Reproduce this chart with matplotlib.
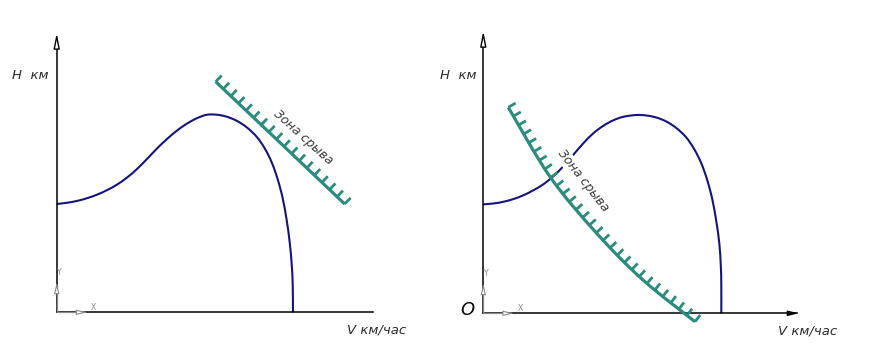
import numpy as np
import matplotlib
matplotlib.use("Agg")
import matplotlib.pyplot as plt
from matplotlib.path import Path
from matplotlib.patches import PathPatch

# ---- data (drawing units relative to the origin of each diagram) ----
left_v = [0, 10, 20, 30, 40, 50, 60, 70, 80, 90, 100, 110, 120, 130, 140, 150,
          160, 170, 180, 190, 200, 208, 215, 221, 226, 230, 233, 235, 236, 236.3]
left_h = [108.3, 109.5, 111.3, 114, 117.5, 122, 127.5, 134.5, 143, 153, 163.5, 173, 181.5, 188.5, 194, 197.5,
          197.6, 195.6, 191.5, 185, 175.5, 164, 150, 133, 114, 92, 70, 48, 28, 0]

right_v = [0, 10, 20, 30, 40, 50, 60, 70, 80, 90, 100, 110, 120, 130, 140, 153,
           163, 173, 183, 193, 203, 211, 218, 224, 229, 233, 236, 237.5, 238, 238]
right_h = [109, 109.8, 111.5, 114.2, 118, 123, 129, 137, 147, 158.5, 170, 180, 187.5, 193, 196.5, 198.3,
           197.8, 195.8, 191.8, 185.3, 175.8, 164, 150, 133, 114, 92, 70, 48, 28, 0]

left_stall_v = [159, 223.5, 288]
left_stall_h = [230.6, 169.5, 108.3]
right_stall_v = [25, 66.7, 113.4, 159.7, 211.7]
right_stall_h = [206, 136.6, 80, 33.3, -8.4]

ylabel = "H  км"
xlabel = "V км/час"
zone_label = "Зона срыва"

# ---- style ----
CURVE = "#14147e"
TEAL = "#2a8c7c"
GRAY = "#8a8a8a"
W, H = 879, 358

fig = plt.figure(figsize=(W / 100, H / 100), dpi=100)


def make_axes(x0px, x1px, ox, oy):
    ax = fig.add_axes([x0px / W, 0, (x1px - x0px) / W, 1])
    ax.set_xlim(x0px - ox, x1px - ox)
    ax.set_ylim(-(H - oy), oy)
    ax.set_axis_off()
    return ax


def bezier_through(xs, ys):
    P = np.column_stack([xs, ys]).astype(float)
    n = len(P)
    verts = [P[0]]
    codes = [Path.MOVETO]
    for i in range(n - 1):
        p0 = P[i - 1] if i > 0 else P[i]
        p1, p2 = P[i], P[i + 1]
        p3 = P[i + 2] if i + 2 < n else P[i + 1]
        verts += [p1 + (p2 - p0) / 6.0, p2 - (p3 - p1) / 6.0, p2]
        codes += [Path.CURVE4] * 3
    return Path(verts, codes)


def smooth_line(ax, xs, ys, **kw):
    path = bezier_through(xs, ys)
    ax.add_patch(PathPatch(path, fill=False, **kw))
    return path


def hatch(ax, xs, ys, spacing=10.4, length=8.5):
    path = smooth_line(ax, xs, ys, ec=TEAL, lw=2.3, capstyle="butt", zorder=5)
    pts = np.vstack([poly for poly in path.to_polygons(closed_only=False)])
    seg = np.diff(pts, axis=0)
    sl = np.hypot(seg[:, 0], seg[:, 1])
    cum = np.concatenate([[0], np.cumsum(sl)])
    L = cum[-1]
    k = int(round(L / spacing))
    for t in np.linspace(0, L, k + 1):
        i = min(np.searchsorted(cum, t, side="right") - 1, len(seg) - 1)
        f = (t - cum[i]) / sl[i] if sl[i] > 0 else 0
        a = pts[i] + seg[i] * f
        u = seg[i] / sl[i]
        nrm = np.array([-u[1], u[0]])
        if nrm[0] < 0:
            nrm = -nrm
        b = a + nrm * length
        ax.plot([a[0], b[0]], [a[1], b[1]], color=TEAL, lw=2.0, solid_capstyle="butt", zorder=5)


def frame(ax, ytop, xend, xarrow):
    ax.plot([0, 0], [0, ytop - 10], color="black", lw=1.1, zorder=3)
    ax.annotate("", xy=(0, ytop), xytext=(0, ytop - 14),
                arrowprops=dict(arrowstyle="-|>,head_length=0.9,head_width=0.18", color="black",
                                lw=1.0, fc="white"), zorder=3)
    ax.plot([0, xend], [0, 0], color="black", lw=1.1, zorder=3)
    if xarrow:
        ax.annotate("", xy=(xend + 4, 0), xytext=(xend - 8, 0),
                    arrowprops=dict(arrowstyle="-|>,head_length=0.6,head_width=0.15", color="black", lw=1.0),
                    zorder=3)
    ax.plot([0, 0], [0, 26], color=GRAY, lw=0.9, zorder=4)
    ax.plot([0, 26], [0, 0], color=GRAY, lw=0.9, zorder=4)
    ax.annotate("", xy=(0, 32), xytext=(0, 24),
                arrowprops=dict(arrowstyle="-|>,head_length=0.6,head_width=0.15", color=GRAY, lw=0.8, fc="white"),
                zorder=4)
    ax.annotate("", xy=(33, 0), xytext=(25, 0),
                arrowprops=dict(arrowstyle="-|>,head_length=0.6,head_width=0.15", color=GRAY, lw=0.8, fc="white"),
                zorder=4)
    ax.text(2.5, 40, "Y", color=GRAY, fontsize=5.5, ha="center", va="center")
    ax.text(37, 5, "X", color=GRAY, fontsize=5.5, ha="center", va="center")


txt = dict(color="#2b2b2b", fontstyle="italic", fontsize=9.5, family="DejaVu Sans")
ztxt = dict(color="#3a3a3a", fontstyle="italic", fontsize=9, family="DejaVu Sans")

# ---- left diagram ----
axL = make_axes(0, 440, 56.7, 312.3)
frame(axL, 282, 316, False)
smooth_line(axL, left_v, left_h, ec=CURVE, lw=1.5, zorder=2)
hatch(axL, left_stall_v, left_stall_h)
axL.text(-26.7, 237, ylabel, ha="center", va="center", **txt)
axL.text(320, -18, xlabel, ha="center", va="center", **txt)
axL.text(247, 175, zone_label, rotation=-42, rotation_mode="anchor", ha="center", va="center",
         zorder=6, **ztxt)

# ---- right diagram ----
axR = make_axes(440, 879, 483.3, 313.3)
frame(axR, 285, 314, True)
smooth_line(axR, right_v, right_h, ec=CURVE, lw=1.5, zorder=2)
hatch(axR, right_stall_v, right_stall_h)
axR.text(-25, 238, ylabel, ha="center", va="center", **txt)
axR.text(324, -18, xlabel, ha="center", va="center", **txt)
axR.text(-16, 3, "O", ha="center", va="center", color="black", fontsize=13, fontstyle="italic")
axR.text(99.5, 133, zone_label, rotation=-52, rotation_mode="anchor", ha="center", va="center",
         zorder=4, bbox=dict(boxstyle="square,pad=0.1", fc="white", ec="none"), **ztxt)

fig.savefig("out.png", dpi=100, facecolor="white")
